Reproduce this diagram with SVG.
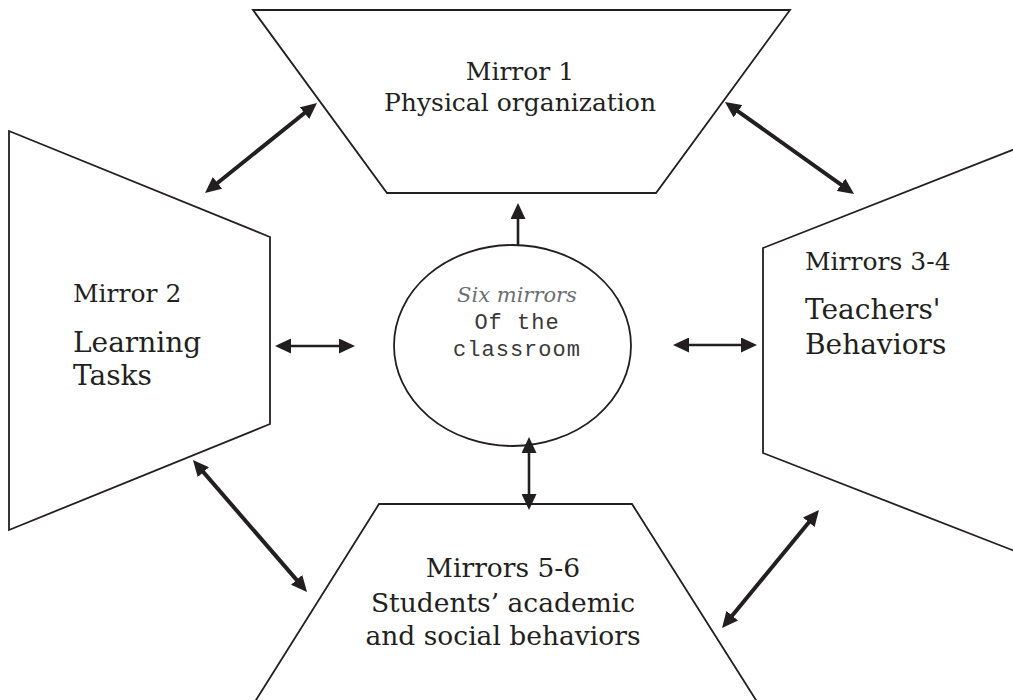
<svg xmlns="http://www.w3.org/2000/svg" width="1013" height="700" viewBox="0 0 1013 700">
<style>
.shape{fill:#fff;stroke:#231f20;stroke-width:1.8;stroke-linejoin:miter}
.lbl{font-family:"DejaVu Serif","Liberation Serif",serif;fill:#231f20}
.s25{font-size:25px}
.s27{font-size:26.5px}
.s28{font-size:28px}
.it{font-family:"DejaVu Serif","Liberation Serif",serif;font-style:italic;font-size:21px;fill:#6d6e71}
.mono{font-family:"Liberation Mono","Courier New",monospace;font-size:22px;fill:#3a3839;letter-spacing:1px}
.conn line{stroke:#231f20;fill:none}
.thick{stroke-width:4}
.thin{stroke-width:2.6}
</style>
<defs>
<marker id="ah" markerUnits="userSpaceOnUse" markerWidth="16" markerHeight="15" viewBox="0 0 16 15" refX="6" refY="7.5" orient="auto-start-reverse">
<path d="M0,0 L16,7.5 L0,15 Z" fill="#231f20"/>
</marker>
</defs>
<rect width="1013" height="700" fill="#fff"/>
<g id="mirror1">
<polygon class="shape" points="253,10 790,10 656,193 387,193"/>
<text class="lbl s25" x="520" y="80" text-anchor="middle">Mirror 1</text>
<text class="lbl s25" x="520" y="111" text-anchor="middle">Physical organization</text>
</g>
<g id="mirror2">
<polygon class="shape" points="9,131 270,237 270,424 9,530"/>
<text class="lbl s25" x="73" y="302">Mirror 2</text>
<text class="lbl s28" x="73" y="352">Learning</text>
<text class="lbl s28" x="73" y="385">Tasks</text>
</g>
<g id="mirrors34">
<path class="shape" d="M1030,143 L763,248 L763,453 L1030,557"/>
<text class="lbl s25" x="805" y="270">Mirrors 3-4</text>
<text class="lbl s28" x="805" y="319">Teachers'</text>
<text class="lbl s28" x="805" y="354">Behaviors</text>
</g>
<g id="mirrors56">
<path class="shape" d="M251,708 L379,504 L632,504 L761,708"/>
<text class="lbl s27" x="503" y="577" text-anchor="middle">Mirrors 5-6</text>
<text class="lbl s27" x="503" y="612" text-anchor="middle">Students’ academic</text>
<text class="lbl s27" x="503" y="645" text-anchor="middle">and social behaviors</text>
</g>
<g id="center">
<ellipse class="shape" cx="512.5" cy="345.5" rx="118.5" ry="100.5"/>
<text class="it" x="517" y="302" text-anchor="middle">Six mirrors</text>
<text class="mono" x="517" y="329" text-anchor="middle">Of the</text>
<text class="mono" x="517" y="356" text-anchor="middle">classroom</text>
</g>
<g id="connectors" class="conn">
<line class="thick" x1="212.8" y1="186.7" x2="309.2" y2="109.3" marker-start="url(#ah)" marker-end="url(#ah)"/>
<line class="thick" x1="733.1" y1="107.8" x2="845.9" y2="188.2" marker-start="url(#ah)" marker-end="url(#ah)"/>
<line class="thick" x1="199.5" y1="467.6" x2="300.5" y2="584.4" marker-start="url(#ah)" marker-end="url(#ah)"/>
<line class="thick" x1="728.4" y1="620.3" x2="812.6" y2="517.7" marker-start="url(#ah)" marker-end="url(#ah)"/>
<line class="thin" x1="518" y1="245" x2="518" y2="213" marker-end="url(#ah)"/>
<line class="thin" x1="529" y1="447" x2="529" y2="500" marker-start="url(#ah)" marker-end="url(#ah)"/>
<line class="thin" x1="285" y1="346" x2="345" y2="346" marker-start="url(#ah)" marker-end="url(#ah)"/>
<line class="thin" x1="683" y1="345" x2="747" y2="345" marker-start="url(#ah)" marker-end="url(#ah)"/>
</g>
</svg>
